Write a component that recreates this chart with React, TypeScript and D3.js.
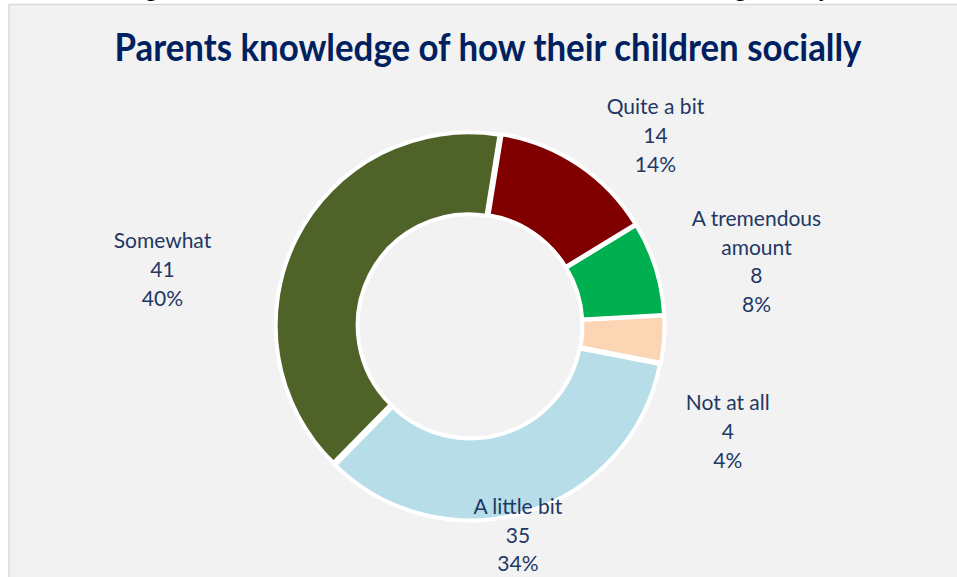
import { useMemo } from 'react';
import * as d3 from 'd3';

const categories = ['Quite a bit', 'A tremendous amount', 'Not at all', 'A little bit', 'Somewhat'];
const counts = [14, 8, 4, 35, 41];
const percents = ['14%', '8%', '4%', '34%', '40%'];
const labelLines = [
  ['Quite a bit'],
  ['A tremendous', 'amount'],
  ['Not at all'],
  ['A little bit'],
  ['Somewhat'],
];
const colors = ['#800000', '#00b050', '#fcd5b5', '#b7dde8', '#4f6228'];

// label placement (polar, around the donut centre), tuned to the reference
const labelPolar: [number, number][] = [
  [44, 267],
  [77, 294],
  [112, 278],
  [167, 213],
  [280.7, 313],
];

const W = 957;
const H = 577;
const cx = 470;
const cy = 326;
const outerR = 193;
const innerR = 111;
const startDeg = 9.2;
const explode = 1.5;

export default function App() {
  const arcs = useMemo(() => {
    const pie = d3
      .pie<number>()
      .sort(null)
      .startAngle((startDeg * Math.PI) / 180)
      .endAngle(((startDeg + 360) * Math.PI) / 180);
    return pie(counts);
  }, []);

  const arc = d3.arc<d3.PieArcDatum<number>>().innerRadius(innerR).outerRadius(outerR);
  const lineH = 28.7;
  const textColor = '#1f3864';

  return (
    <svg
      width={W}
      height={H}
      style={{ position: 'absolute', left: 0, top: 0, background: '#fff' }}
      fontFamily="Lato, 'Open Sans', sans-serif"
    >
      {/* caption from the page above, cut off by the top edge as in the source */}
      <text
        x={478}
        y={-4}
        textAnchor="middle"
        fontFamily="'Liberation Serif', 'DejaVu Serif', serif"
        fontSize={24}
        fill="#000"
      >
        Figure 8: How Much Parents Know About Their Children Doing Socially
      </text>

      <rect x={9} y={4.5} width={W} height={H} fill="#f2f2f2" stroke="#d9d9d9" strokeWidth={1.5} />

      <text
        x={488}
        y={61}
        textAnchor="middle"
        fontWeight={700}
        fontSize={38}
        fill="#002060"
        textLength={747}
        lengthAdjust="spacingAndGlyphs"
      >
        Parents knowledge of how their children socially
      </text>

      <g transform={`translate(${cx},${cy})`}>
        {arcs.map((a, i) => {
          const mid = (a.startAngle + a.endAngle) / 2;
          const dx = explode * Math.sin(mid);
          const dy = -explode * Math.cos(mid);
          return (
            <path
              key={categories[i]}
              d={arc(a) ?? ''}
              transform={`translate(${dx},${dy})`}
              fill={colors[i]}
              stroke="#fff"
              strokeWidth={4}
            />
          );
        })}
      </g>

      {arcs.map((a, i) => {
        const [deg, r] = labelPolar[i];
        const ang = (deg * Math.PI) / 180;
        const lx = cx + r * Math.sin(ang);
        const ly = cy - r * Math.cos(ang);
        const lines = [...labelLines[i], String(a.data), percents[i]];
        const y0 = ly - ((lines.length - 1) * lineH) / 2;
        return (
          <text key={categories[i]} x={lx} y={y0} textAnchor="middle" fontSize={21} fill={textColor} dominantBaseline="central">
            {lines.map((t, j) => (
              <tspan key={j} x={lx} y={y0 + j * lineH}>
                {t}
              </tspan>
            ))}
          </text>
        );
      })}
    </svg>
  );
}
